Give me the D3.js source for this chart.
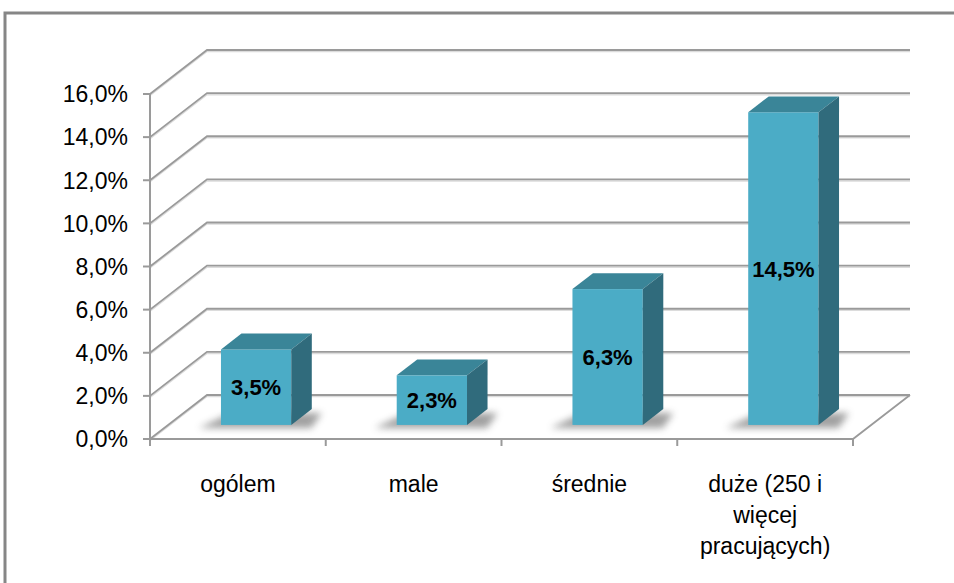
<!DOCTYPE html>
<html>
  <head>
    <meta charset="utf-8">
    <script src="https://cdnjs.cloudflare.com/ajax/libs/d3/7.8.5/d3.min.js"></script>
    <style>
      body { margin: 0; overflow: hidden; background: #fff; }
      text { font-family: "Liberation Sans", Arial, sans-serif; fill: #000; }
    </style>
  </head>
  <body>
    <div id="canvas"></div>
    <script>
      // dane
      const categories = ["ogólem", "male", "średnie", "duże (250 i więcej pracujących)"];
      const labelLines = [["ogólem"], ["male"], ["średnie"], ["duże (250 i", "więcej", "pracujących)"]];
      const values = [3.5, 2.3, 6.3, 14.5];
      const valueLabels = ["3,5%", "2,3%", "6,3%", "14,5%"];
      const yTicks = [0, 2, 4, 6, 8, 10, 12, 14, 16];

      const width = 954, height = 583;
      const svg = d3.select("#canvas").append("svg")
        .attr("width", width).attr("height", height);

      // perspektywa 3D
      const depthX = 57, depthY = 44;
      const zFront = 0.32, zBack = 0.68;

      const x = d3.scaleBand().domain(categories).range([150, 853])
        .paddingInner(0.6).paddingOuter(0.3);
      const y = d3.scaleLinear().domain([0, 16]).range([439, 94]);

      const defs = svg.append("defs");
      const blur = defs.append("filter").attr("id", "shadow")
        .attr("x", "-50%").attr("y", "-50%").attr("width", "200%").attr("height", "200%");
      blur.append("feGaussianBlur").attr("stdDeviation", 3.5);

      // ramka
      svg.append("rect").attr("x", 5).attr("y", 13)
        .attr("width", 960).attr("height", 600)
        .attr("fill", "none").attr("stroke", "#868686").attr("stroke-width", 3);

      const grid = svg.append("g");
      const gridColor = "#9a9a9a";

      // linie siatki: sciana lewa + tylna
      yTicks.forEach(t => {
        const yf = y(t);
        grid.append("polyline")
          .attr("points", `150,${yf + 1.5} ${150 + depthX},${yf - depthY + 1.5} 910,${yf - depthY + 1.5}`)
          .attr("fill", "none").attr("stroke", "#dcdcdc").attr("stroke-width", 1.5);
        grid.append("polyline")
          .attr("points", `150,${yf} ${150 + depthX},${yf - depthY} 910,${yf - depthY}`)
          .attr("fill", "none").attr("stroke", gridColor).attr("stroke-width", 1.8);
      });

      // podloga
      grid.append("polyline")
        .attr("points", `150,${y(0)} 853,${y(0)} 910,${y(0) - depthY}`)
        .attr("fill", "none").attr("stroke", gridColor).attr("stroke-width", 1.8);

      // os Y
      grid.append("line").attr("x1", 150).attr("x2", 150)
        .attr("y1", y(16)).attr("y2", y(0) + 7)
        .attr("stroke", gridColor).attr("stroke-width", 2);
      yTicks.forEach(t => {
        grid.append("line").attr("x1", 143).attr("x2", 150)
          .attr("y1", y(t)).attr("y2", y(t))
          .attr("stroke", gridColor).attr("stroke-width", 2);
      });

      // znaczniki kategorii
      const step = x.step();
      d3.range(categories.length + 1).forEach(i => {
        const xt = 150 + i * step;
        grid.append("line").attr("x1", xt).attr("x2", xt)
          .attr("y1", y(0)).attr("y2", y(0) + 7)
          .attr("stroke", gridColor).attr("stroke-width", 2);
      });

      // etykiety osi Y
      svg.append("g").selectAll("text").data(yTicks).enter().append("text")
        .attr("x", 128).attr("y", d => y(d)).attr("dy", "0.36em")
        .attr("text-anchor", "end").style("font-size", "23px")
        .text(d => d.toFixed(1).replace(".", ",") + "%");

      // slupki
      const bw = x.bandwidth();
      const bdx = (zBack - zFront) * depthX, bdy = (zBack - zFront) * depthY;
      const bars = svg.append("g").selectAll("g").data(categories).enter().append("g");

      bars.each(function (c, i) {
        const g = d3.select(this);
        const x0 = x(c) + zFront * depthX;
        const x1 = x0 + bw;
        const yb = y(0) - zFront * depthY;
        const yt = y(values[i]) - zFront * depthY;

        // cien
        g.append("polygon")
          .attr("points", `${x0 - 22},${yb + 3} ${x1 + 20},${yb + 3} ${x1 + bdx + 10},${yb - bdy + 4} ${x0 + 10},${yb - bdy + 4}`)
          .attr("fill", "#555").attr("opacity", 0.55).attr("filter", "url(#shadow)");

        g.append("rect").attr("x", x0).attr("y", yt)
          .attr("width", bw).attr("height", yb - yt).attr("fill", "#4bacc6");
        g.append("polygon")
          .attr("points", `${x0},${yt} ${x1},${yt} ${x1 + bdx},${yt - bdy} ${x0 + bdx},${yt - bdy}`)
          .attr("fill", "#3a8598");
        g.append("polygon")
          .attr("points", `${x1},${yt} ${x1 + bdx},${yt - bdy} ${x1 + bdx},${yb - bdy} ${x1},${yb}`)
          .attr("fill", "#306b7c");

        g.append("text").attr("x", x0 + bw / 2).attr("y", (yt + yb) / 2)
          .attr("dy", "0.36em").attr("text-anchor", "middle")
          .style("font-size", "22px").style("font-weight", "bold")
          .text(valueLabels[i]);
      });

      // etykiety kategorii
      const catG = svg.append("g");
      categories.forEach((c, i) => {
        labelLines[i].forEach((line, j) => {
          catG.append("text")
            .attr("x", x(c) + bw / 2).attr("y", 484 + j * 31).attr("dy", "0.36em")
            .attr("text-anchor", "middle").style("font-size", "23px")
            .text(line);
        });
      });
    </script>
  </body>
</html>
